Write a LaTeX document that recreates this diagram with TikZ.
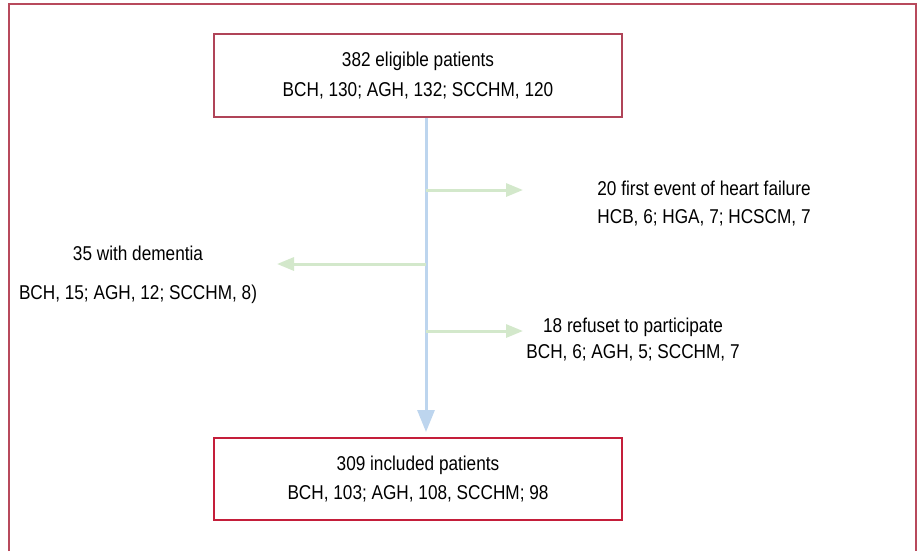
\documentclass[tikz,border=0pt]{standalone}
\usepackage{fontspec}
\setmainfont{Liberation Sans}[FakeStretch=0.86]
\usetikzlibrary{arrows.meta}
\definecolor{framered}{HTML}{B84A5C}
\definecolor{topred}{HTML}{B04458}
\definecolor{botred}{HTML}{C41E3A}
\definecolor{spineblue}{HTML}{BDD5EE}
\definecolor{branchgreen}{HTML}{D3E8CB}
\begin{document}
\begin{tikzpicture}[x=0.75pt,y=-0.75pt,
  txt/.style={align=center,font=\fontsize{15pt}{21pt}\selectfont,inner sep=0pt},
  flowbox/.style={draw,line width=1.5pt,minimum width=306pt,inner sep=0pt,align=center,font=\fontsize{15pt}{22pt}\selectfont},
  spinearrow/.style={draw=spineblue,line width=2.25pt,-{Triangle[width=12.75pt,length=16.5pt]}},
  brancharrow/.style={draw=branchgreen,line width=2.25pt,-{Triangle[width=9.75pt,length=12.75pt]}}]
\useasboundingbox (0,0) rectangle (917,551);
\fill[white] (0,0) rectangle (917,551);
% outer frame
\draw[framered,line width=1.5pt] (9,551) -- (9,4) -- (916,4) -- (916,551);
% boxes
\node[flowbox,draw=topred,minimum height=62.25pt] (top) at (418,75.5) {382 eligible patients\\BCH, 130; AGH, 132; SCCHM, 120};
\node[flowbox,draw=botred,minimum height=61.5pt] (bot) at (418,479) {309 included patients\\BCH, 103; AGH, 108, SCCHM; 98};
% spine
\coordinate (spine) at (426,0);
\draw[spinearrow,shorten >=3.75pt] (top.south -| spine) -- (bot.north -| spine);
% branch points and tips
\coordinate (b1) at (426,190);
\coordinate (b2) at (426,264);
\coordinate (b3) at (426,331);
\coordinate (t1) at (523,190);
\coordinate (t2) at (277,264);
\coordinate (t3) at (523,331);
\draw[brancharrow] (b1) -- (t1);
\draw[brancharrow] (b2) -- (t2);
\draw[brancharrow] (b3) -- (t3);
% side texts
\node[txt] (hf) at (704,204) {20 first event of heart failure\\HCB, 6; HGA, 7; HCSCM, 7};
\node[txt,font=\fontsize{15pt}{29pt}\selectfont] (dem) at (138,274.5) {35 with dementia\\BCH, 15; AGH, 12; SCCHM, 8)};
\node[txt,font=\fontsize{15pt}{19.5pt}\selectfont] (ref) at (633,340) {18 refuset to participate\\BCH, 6; AGH, 5; SCCHM, 7};
\end{tikzpicture}
\end{document}
